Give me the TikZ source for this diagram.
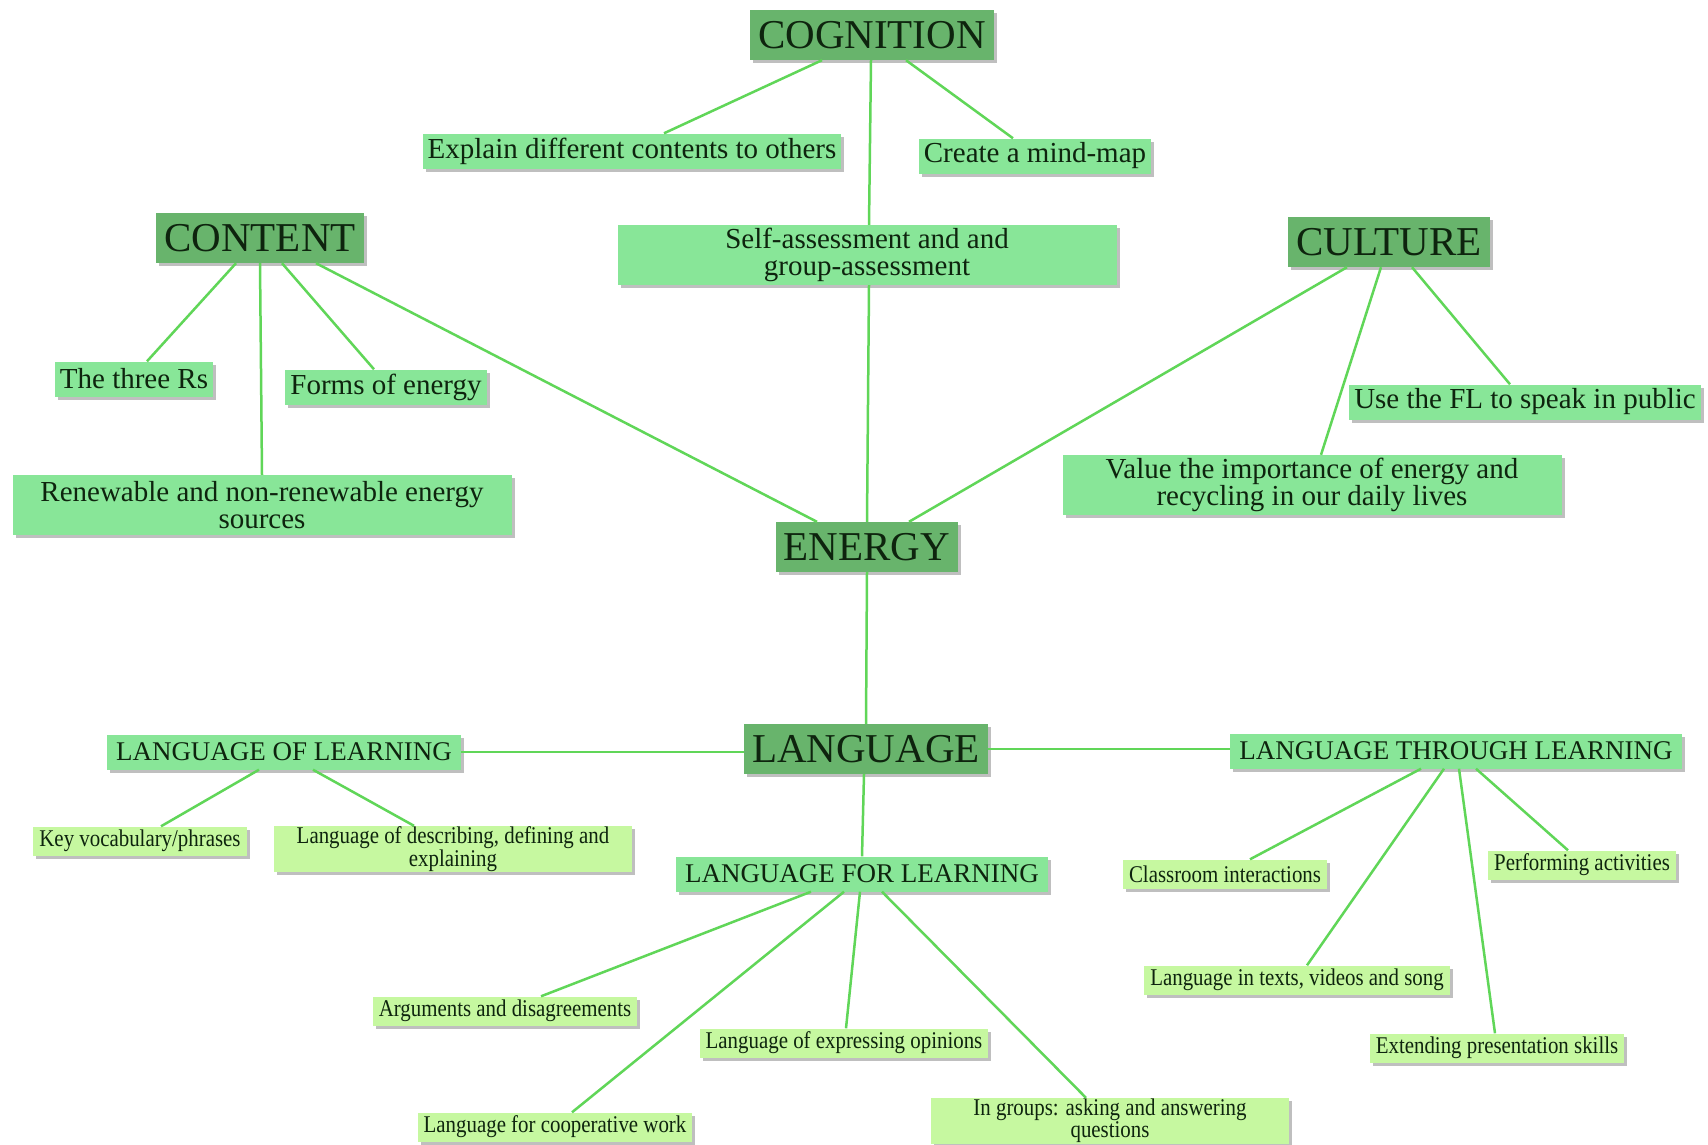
\documentclass[tikz,border=0pt]{standalone}
\usepackage{fontspec}
\setmainfont{Liberation Serif}
\newfontfamily\narrowserif[FakeStretch=0.87]{Liberation Serif}
\usepackage{tikz}
\usetikzlibrary{shadows, positioning}
\definecolor{topicgreen}{RGB}{104,180,108}
\definecolor{ideagreen}{RGB}{136,230,152}
\definecolor{detailgreen}{RGB}{198,248,160}
\definecolor{linkgreen}{RGB}{96,214,88}
\definecolor{inkgreen}{RGB}{14,36,14}
\tikzset{
box/.style={shape=rectangle, inner ysep=0pt, text=inkgreen, drop shadow={shadow xshift=3pt, shadow yshift=-3pt, fill=black, opacity=0.25}},
topic/.style={box, fill=topicgreen, minimum height=50pt, inner xsep=8pt, font=\fontsize{41}{41}\selectfont},
idea/.style={box, fill=ideagreen, minimum height=35pt, inner xsep=5pt, font=\fontsize{29}{27}\selectfont},
wideidea/.style={idea, align=center, minimum width=499pt, minimum height=60pt},
strand/.style={box, fill=ideagreen, minimum height=35pt, inner xsep=9pt, font=\fontsize{27}{27}\selectfont},
detail/.style={box, fill=detailgreen, minimum height=29pt, inner xsep=6pt, font=\narrowserif\fontsize{24}{20}\selectfont},
widedetail/.style={detail, align=center, minimum width=358pt, minimum height=46pt},
link/.style={draw=linkgreen, line width=2.5pt}}
\begin{document}
\begin{tikzpicture}[x=1pt, y=-1pt]
\fill[white] (0,0) rectangle (1708,1144);
\useasboundingbox (0,0) rectangle (1708,1144);

\node[topic] (cog) at (872,35) {COGNITION};
\node[topic] (cont) at (260,238) {CONTENT};
\node[topic] (cult) at (1389,242) {CULTURE};
\node[topic] (en) at (867,547) {ENERGY};
\node[topic] (lang) at (866,749) {LANGUAGE};

\node[idea] (cog-1) at (632,151) {Explain different contents to others};
\node[idea] (cog-2) at (1035,156) {Create a mind-map};
\node[wideidea] (cog-3) at (867,255) {Self-assessment and and\\group-assessment};
\node[idea] (cont-1) at (134,379) {The three Rs};
\node[idea] (cont-2) at (386,387) {Forms of energy};
\node[wideidea] (cont-3) at (262,505) {Renewable and non-renewable energy\\sources};
\node[wideidea] (cult-1) at (1312,485) {Value the importance of energy and\\recycling in our daily lives};
\node[idea] (cult-2) at (1525,402) {Use the FL to speak in public};

\node[strand] (lol) at (284,752) {LANGUAGE OF LEARNING};
\node[strand] (ltl) at (1456,751) {LANGUAGE THROUGH LEARNING};
\node[strand] (lfl) at (862,874) {LANGUAGE FOR LEARNING};

\node[detail] (lol-1) at (140,841) {Key vocabulary/phrases};
\node[widedetail] (lol-2) at (453,849) {Language of describing, defining and\\explaining};
\node[detail] (lfl-1) at (505,1011) {Arguments and disagreements};
\node[detail] (lfl-2) at (844,1043) {Language of expressing opinions};
\node[detail] (lfl-3) at (555,1127) {Language for cooperative work};
\node[widedetail] (lfl-4) at (1110,1121) {In groups: asking and answering\\questions};
\node[detail] (ltl-1) at (1225,874) {Classroom interactions};
\node[detail] (ltl-2) at (1297,980) {Language in texts, videos and song};
\node[detail] (ltl-3) at (1497,1048) {Extending presentation skills};
\node[detail] (ltl-4) at (1582,865) {Performing activities};

\foreach \from/\to/\a/\b in {cog/cog-1/-50/32, cog/cog-2/34/-22, cog/cog-3/-1/2, cog-3/en/2/0,
      cont/cont-1/-24/13, cont/cont-3/0/0, cont/cont-2/22/-12, cont/en/56/-50,
      cult/en/-42/42, cult/cult-1/-8/9, cult/cult-2/23/-15, en/lang/0/0, lang/lfl/-2/0,
      lol/lol-1/-25/21, lol/lol-2/29/-39,
      lfl/lfl-1/-51/36, lfl/lfl-3/-18/17, lfl/lfl-2/-2/2, lfl/lfl-4/20/-24,
      ltl/ltl-1/-35/25, ltl/ltl-2/-12/10, ltl/ltl-3/3/-2, ltl/ltl-4/20/-14}{
  \draw[link] ([xshift=\a pt]\from.south) -- ([xshift=\b pt]\to.north);
}
\draw[link] (lol.east) -- (lol.east -| lang.west);
\draw[link] (lang.east) -- (lang.east -| ltl.west);
\end{tikzpicture}
\end{document}
